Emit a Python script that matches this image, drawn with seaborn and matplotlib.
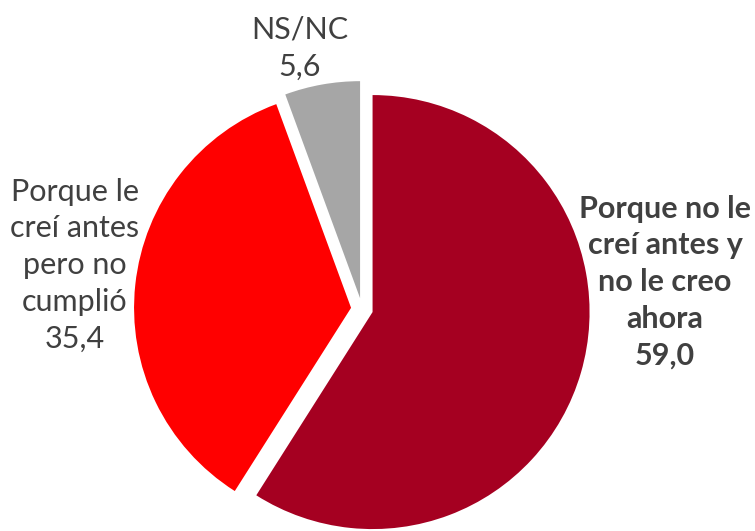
import matplotlib
matplotlib.use("Agg")
import matplotlib.pyplot as plt
import seaborn as sns

# data
categories = ["Porque no le\ncreí antes y\nno le creo\nahora",
              "Porque le\ncreí antes\npero no\ncumplió",
              "NS/NC"]
values = [59.0, 35.4, 5.6]
colors = ["#A50021", "#FF0000", "#A6A6A6"]

sns.set_theme(style="white")
plt.rcParams['font.family'] = ['Lato', 'DejaVu Sans']

W, H = 755, 531
fig = plt.figure(figsize=(W / 100, H / 100), dpi=100)
ax = fig.add_axes([0, 0, 1, 1])

# pie in pixel units so it can be placed like the original
cx, cy, r = 362, H - 309, 217
# explode is in data units here since the pie is drawn in pixel space
ax.pie(values, colors=colors, startangle=90, counterclock=False,
       explode=[11] * len(values), center=(cx, cy), radius=r,
       wedgeprops=dict(linewidth=0))

def fmt(v):
    return f"{v:.1f}".replace(".", ",")

txt_color = "#404040"
fs = 22
# label positions (pixel coords in the reference)
label_pos = [(665, H - 282), (75, H - 265), (300, H - 48)]
weights = ["bold", "normal", "normal"]
for name, v, (x, y), w in zip(categories, values, label_pos, weights):
    ax.text(x, y, f"{name}\n{fmt(v)}", ha="center", va="center",
            fontsize=fs, color=txt_color, fontweight=w, linespacing=1.38)

ax.set_xlim(0, W)
ax.set_ylim(0, H)
ax.set_aspect("equal")
ax.axis("off")

fig.savefig("out.png", dpi=100)
